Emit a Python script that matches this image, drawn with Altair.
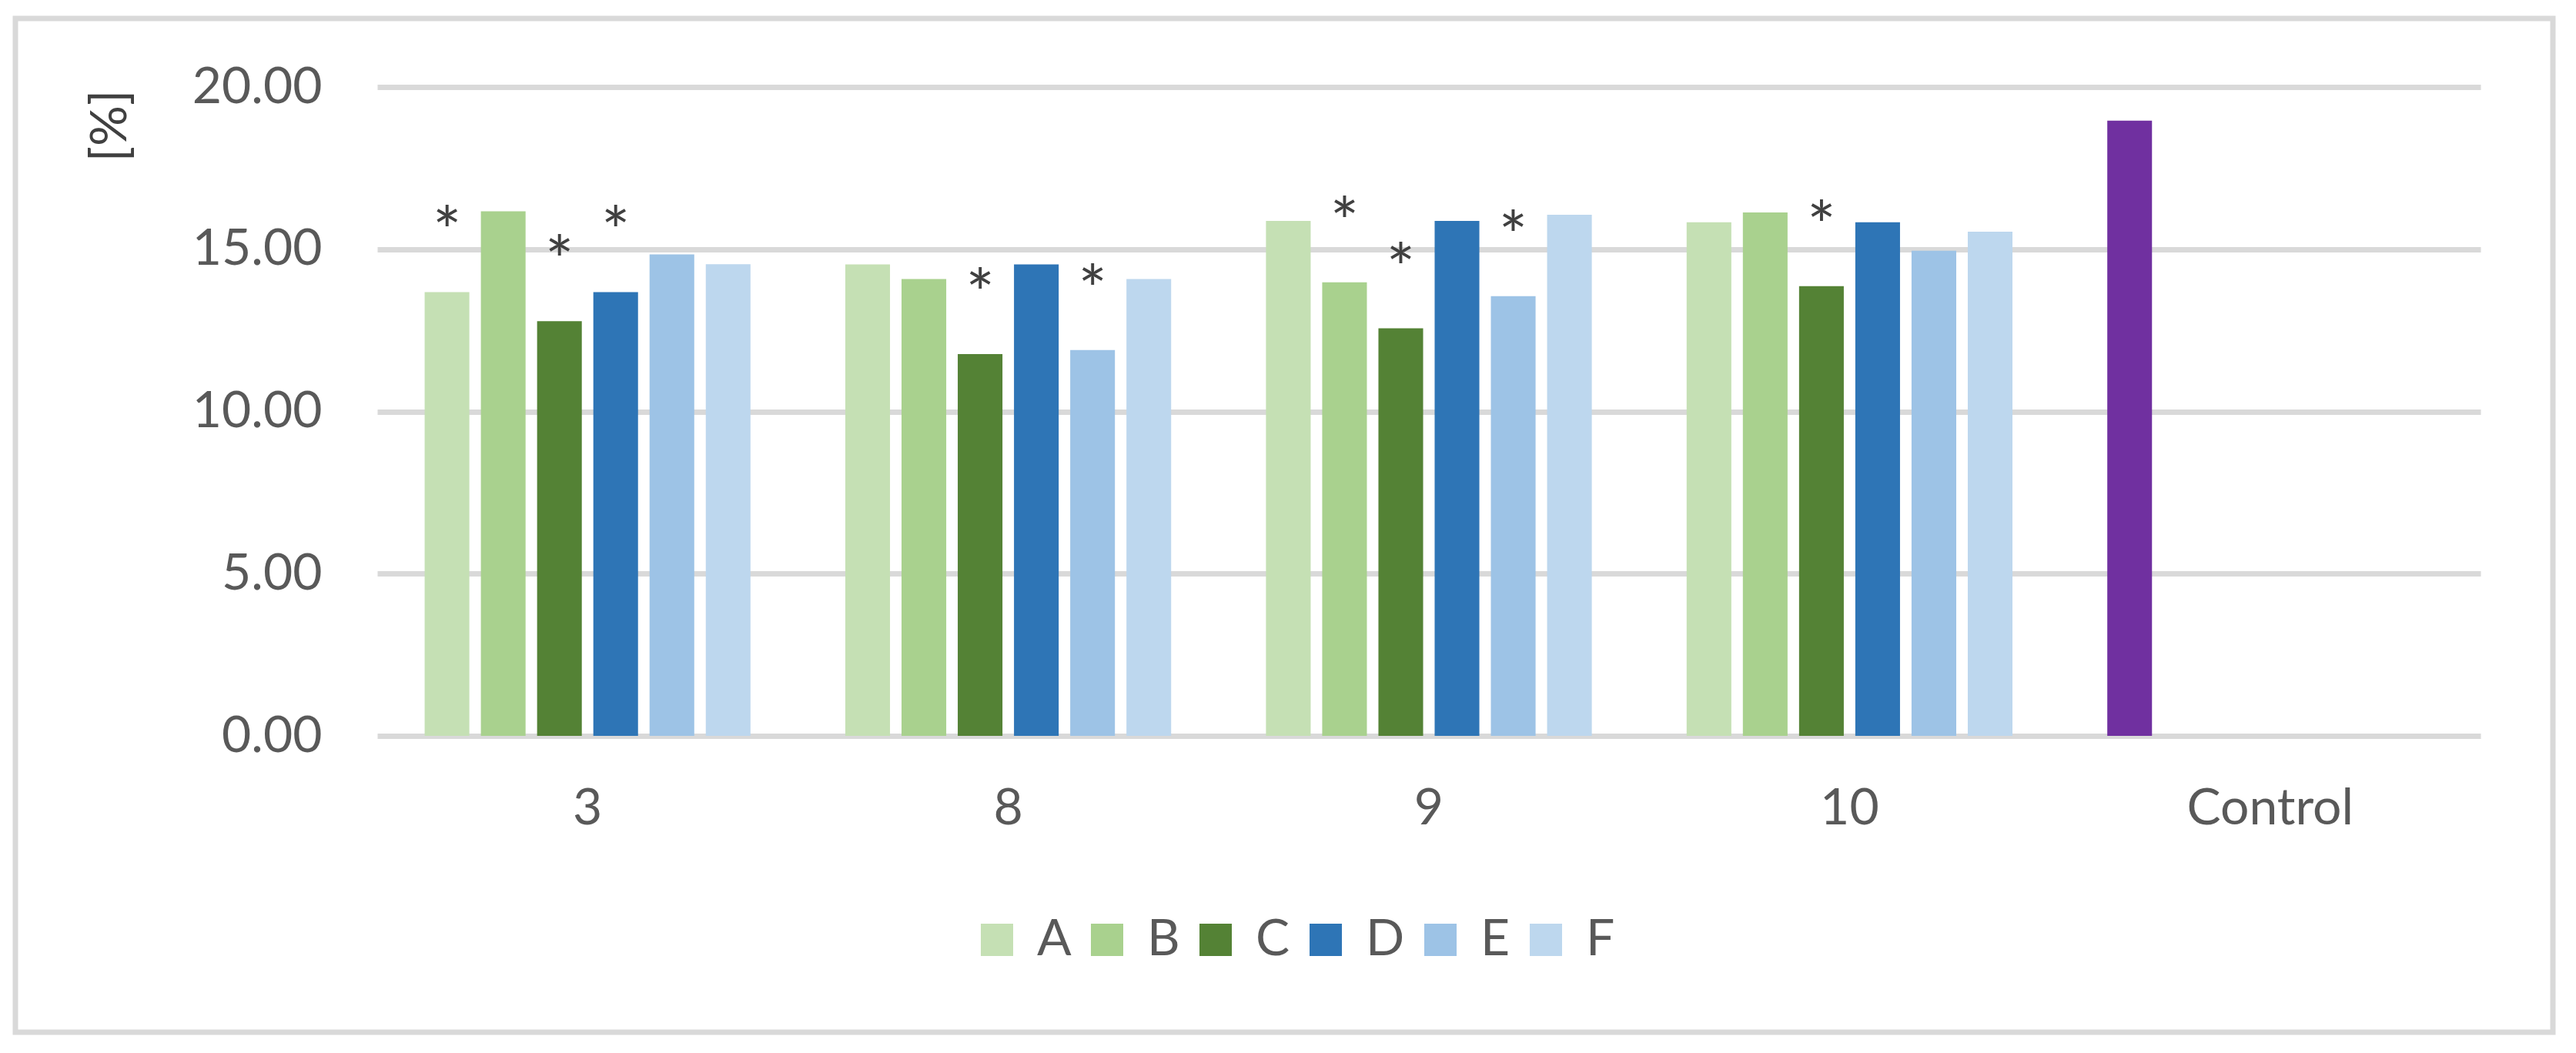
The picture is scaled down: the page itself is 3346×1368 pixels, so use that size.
import altair as alt
import pandas as pd

categories = ["3", "8", "9", "10"]
series = ["A", "B", "C", "D", "E", "F"]
series_colors = ["#C5E0B4", "#A9D18E", "#548235", "#2E75B6", "#9DC3E6", "#BDD7EE"]

values_A = [13.68, 14.53, 15.87, 15.83]
values_B = [16.17, 14.08, 13.98, 16.13]
values_C = [12.78, 11.77, 12.56, 13.86]
values_D = [13.68, 14.53, 15.87, 15.83]
values_E = [14.84, 11.89, 13.55, 14.95]
values_F = [14.54, 14.08, 16.06, 15.54]

sig_A = [1, 0, 0, 0]
sig_B = [0, 0, 1, 0]
sig_C = [1, 1, 1, 1]
sig_D = [1, 0, 0, 0]
sig_E = [0, 1, 1, 0]
sig_F = [0, 0, 0, 0]

control_label = "Control"
control_value = 18.96
control_color = "#7030A0"

all_values = [values_A, values_B, values_C, values_D, values_E, values_F]
all_sig = [sig_A, sig_B, sig_C, sig_D, sig_E, sig_F]

rows = []
for ci, cat in enumerate(categories):
    for si, s in enumerate(series):
        rows.append({"cat": cat, "slot": s, "key": s,
                     "value": all_values[si][ci], "sig": all_sig[si][ci]})
rows.append({"cat": control_label, "slot": series[0], "key": control_label,
             "value": control_value, "sig": 0})
df = pd.DataFrame(rows)

FONT = "Lato"
cat_order = categories + [control_label]

x_enc = alt.X("cat:N", sort=cat_order,
              scale=alt.Scale(domain=cat_order, paddingInner=0.198, paddingOuter=0.099),
              axis=alt.Axis(title=None, labelAngle=0, domain=False, ticks=False, tickSize=0,
                            labelPadding=62, labelFont=FONT, labelFontSize=66, labelLimit=0,
                            labelColor="#595959", grid=False))
xoff_enc = alt.XOffset("slot:N", sort=series,
                       scale=alt.Scale(domain=series, paddingInner=0.205, paddingOuter=0.1025))
y_enc = alt.Y("value:Q", scale=alt.Scale(domain=[0, 20]),
              axis=alt.Axis(values=[0, 5, 10, 15, 20], format=".2f", domain=False,
                            ticks=False, tickSize=0, labelPadding=72, labelFont=FONT,
                            labelFontSize=66, labelColor="#595959", grid=True,
                            gridColor="#D9D9D9", gridWidth=7,
                            title="[%]", titleFont=FONT, titleFontSize=66,
                            titleColor="#404040", titleFontWeight="normal",
                            titleAngle=270, titleX=-347, titleY=50,
                            titleAlign="center", titleBaseline="middle"))

bars = alt.Chart(df).mark_bar().encode(
    x=x_enc,
    xOffset=xoff_enc,
    y=y_enc,
    color=alt.Color("key:N",
                    scale=alt.Scale(domain=series + [control_label],
                                    range=series_colors + [control_color]),
                    legend=alt.Legend(values=series, orient="none", legendX=772, legendY=1075,
                                      direction="horizontal", columns=6, title=None,
                                      symbolType="square", symbolSize=1764,
                                      symbolStrokeWidth=0, labelFont=FONT, labelFontSize=66,
                                      labelColor="#595959", labelOffset=19,
                                      columnPadding=13, padding=0)),
)

stars = alt.Chart(df).transform_filter(alt.datum.sig == 1).mark_text(
    text="*", baseline="alphabetic", dy=-47, font=FONT, fontSize=88, color="#404040"
).encode(
    x=alt.X("cat:N", sort=cat_order),
    xOffset=alt.XOffset("slot:N", sort=series),
    y=alt.Y("value:Q"),
)

frame = alt.Chart(alt.Data(values=[{}])).mark_rect(
    fill=None, stroke="#D9D9D9", strokeWidth=7
).encode(x=alt.value(-470), x2=alt.value(2826), y=alt.value(-89), y2=alt.value(1228))

chart = alt.layer(frame, bars, stars).properties(
    width=2732, height=843,
    autosize=alt.AutoSizeParams(type="none"),
    padding={"left": 482, "top": 105, "right": 116, "bottom": 404},
    background="white",
).configure_view(stroke=None)

chart.save("out.html", embed_options={"renderer": "svg", "actions": False})
